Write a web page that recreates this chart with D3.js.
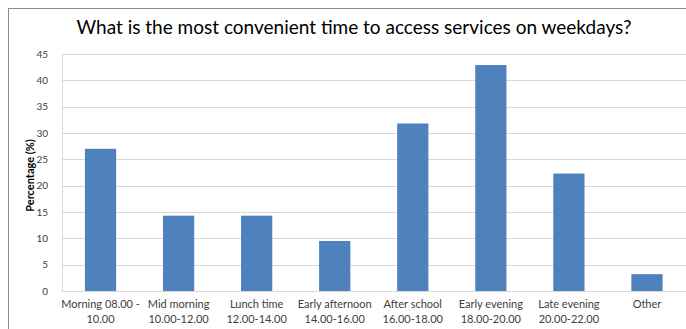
<!DOCTYPE html>
<html>
<head>
<meta charset="utf-8">
<script src="https://cdn.jsdelivr.net/npm/d3@7"></script>
<style>
  body { margin: 0; background: #fff; }
  text { font-family: Lato, "Open Sans", sans-serif; }
</style>
</head>
<body>
<div id="chart"></div>
<script>
// chart data
var categories = [
  ["Morning 08.00 -", "10.00"],
  ["Mid morning", "10.00-12.00"],
  ["Lunch time", "12.00-14.00"],
  ["Early afternoon", "14.00-16.00"],
  ["After school", "16.00-18.00"],
  ["Early evening", "18.00-20.00"],
  ["Late evening", "20.00-22.00"],
  ["Other", ""]
];
var values = [27.0, 14.3, 14.3, 9.5, 31.8, 42.9, 22.3, 3.2];
var yTicks = [0, 5, 10, 15, 20, 25, 30, 35, 40, 45];

var width = 686, height = 329;
var margin = {top: 54, right: 0, bottom: 38, left: 61.5};

var svg = d3.select("#chart").append("svg")
  .attr("width", width)
  .attr("height", height);

// outer frame
svg.append("rect")
  .attr("x", 8.5).attr("y", 8.5)
  .attr("width", width + 10).attr("height", height + 10)
  .attr("fill", "none")
  .attr("stroke", "#8c8c8c");

var x = d3.scaleBand()
  .domain(d3.range(categories.length))
  .range([margin.left, width - margin.right])
  .paddingInner(0.6)
  .paddingOuter(0.3);

var y = d3.scaleLinear()
  .domain([0, 45])
  .range([height - margin.bottom, margin.top]);

// gridlines
svg.append("g").selectAll("line")
  .data(yTicks)
  .enter().append("line")
  .attr("x1", margin.left).attr("x2", width)
  .attr("y1", d => Math.round(y(d)) + 0.5)
  .attr("y2", d => Math.round(y(d)) + 0.5)
  .attr("stroke", "#d9d9d9");

// y axis line
svg.append("line")
  .attr("x1", Math.round(margin.left) + 0.5).attr("x2", Math.round(margin.left) + 0.5)
  .attr("y1", y(45)).attr("y2", y(0))
  .attr("stroke", "#d9d9d9");

// bars
svg.append("g").selectAll("rect")
  .data(values)
  .enter().append("rect")
  .attr("x", (d, i) => x(i))
  .attr("width", x.bandwidth())
  .attr("y", d => y(d))
  .attr("height", d => y(0) - y(d))
  .attr("fill", "#4f81bd");

// y tick labels
svg.append("g").selectAll("text")
  .data(yTicks)
  .enter().append("text")
  .attr("x", 48)
  .attr("y", d => y(d) + 3.5)
  .attr("text-anchor", "end")
  .attr("font-size", 10)
  .attr("fill", "#404040")
  .text(d => d);

// x labels
var xl = svg.append("g").selectAll("text")
  .data(categories)
  .enter().append("text")
  .attr("text-anchor", "middle")
  .attr("font-size", 11)
  .attr("fill", "#404040");
xl.append("tspan")
  .attr("x", (d, i) => x(i) + x.bandwidth() / 2)
  .attr("y", 308)
  .text(d => d[0]);
xl.append("tspan")
  .attr("x", (d, i) => x(i) + x.bandwidth() / 2)
  .attr("y", 323)
  .text(d => d[1]);

// y axis title
svg.append("text")
  .attr("transform", "translate(34," + ((y(0) + y(45)) / 2 + 3) + ") rotate(-90)")
  .attr("text-anchor", "middle")
  .attr("font-size", 11)
  .attr("font-weight", "bold")
  .attr("fill", "#000")
  .text("Percentage (%)");

// title
svg.append("text")
  .attr("x", 354)
  .attr("y", 34)
  .attr("text-anchor", "middle")
  .attr("font-size", 19)
  .attr("fill", "#000")
  .text("What is the most convenient time to access services on weekdays?");
</script>
</body>
</html>
